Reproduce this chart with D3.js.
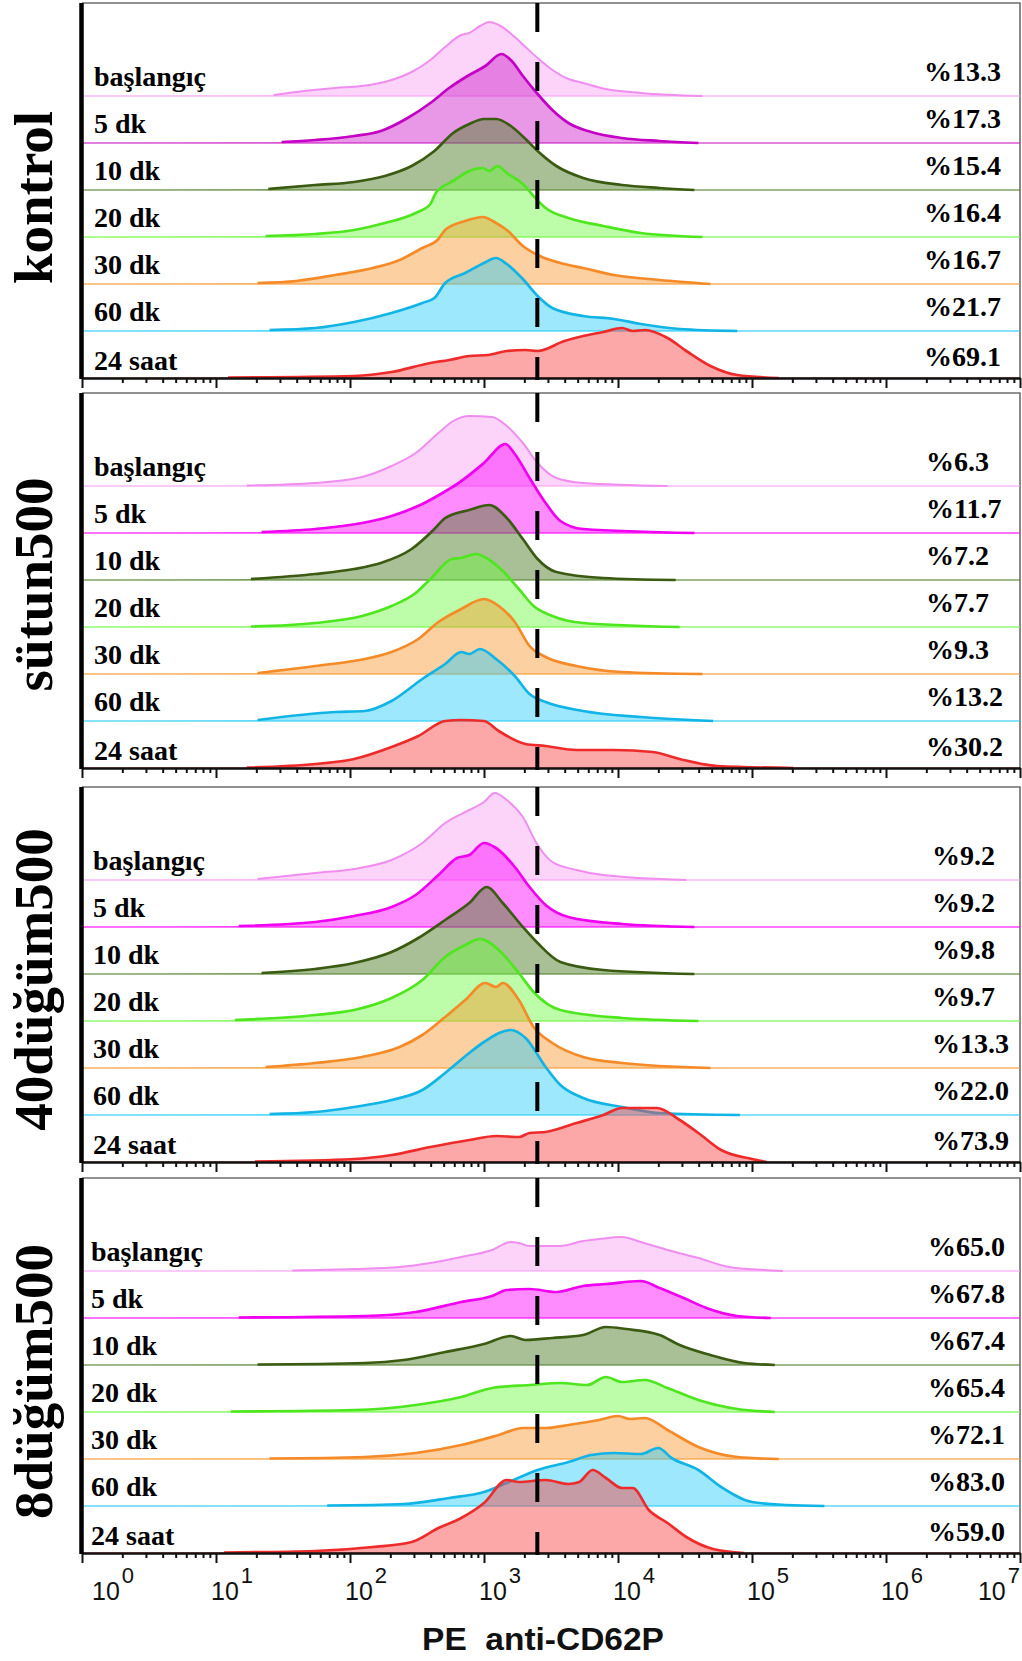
<!DOCTYPE html>
<html>
<head>
<meta charset="utf-8">
<script src="https://cdn.jsdelivr.net/npm/d3@7"></script>
<style>
  body { margin: 0; background: #fff; }
  svg { display: block; }
</style>
</head>
<body>
<svg id="chart" width="1022" height="1661"></svg>
<script>
// groups (one panel each) and time points (one histogram row each)
const groups = ["kontrol", "sütun500", "40düğüm500", "8düğüm500"];
const timePoints = ["başlangıç", "5 dk", "10 dk", "20 dk", "30 dk", "60 dk", "24 saat"];

// % of events right of the gate
const kontrolPct = [13.3, 17.3, 15.4, 16.4, 16.7, 21.7, 69.1];
const sutunPct = [6.3, 11.7, 7.2, 7.7, 9.3, 13.2, 30.2];
const dugum40Pct = [9.2, 9.2, 9.8, 9.7, 13.3, 22.0, 73.9];
const dugum8Pct = [65.0, 67.8, 67.4, 65.4, 72.1, 83.0, 59.0];

// gate (dashed line) and decade ticks
const gateValue = 2500;
const decades = [0, 1, 2, 3, 4, 5, 6, 7];

// histograms: [log10 PE intensity, count]
const kontrolHist = [
  [[1.43,2],[1.66,10],[1.89,16],[2.09,20],[2.31,32],[2.46,48],[2.6,72],[2.71,98],[2.83,122],[2.89,126],[2.97,140],[3.04,148],[3.11,142],[3.23,118],[3.31,98],[3.4,76],[3.49,56],[3.63,34],[3.74,26],[3.91,14],[4.17,6],[4.63,0]],
  [[1.49,2],[1.74,6],[2.03,14],[2.23,24],[2.43,50],[2.6,80],[2.74,110],[2.89,136],[3.01,154],[3.13,178],[3.2,166],[3.29,134],[3.4,98],[3.51,66],[3.63,40],[3.8,22],[4.03,10],[4.31,4],[4.6,0]],
  [[1.39,2],[1.74,10],[2.03,16],[2.26,28],[2.46,48],[2.63,78],[2.77,114],[2.89,132],[3.0,142],[3.09,142],[3.2,128],[3.31,102],[3.4,78],[3.54,48],[3.74,24],[4.03,10],[4.31,4],[4.57,0]],
  [[1.37,2],[1.74,6],[2.03,14],[2.26,28],[2.49,48],[2.6,66],[2.64,88],[2.77,112],[2.89,132],[2.99,138],[3.04,132],[3.1,142],[3.17,128],[3.29,106],[3.37,82],[3.46,58],[3.63,38],[3.89,22],[4.17,8],[4.63,0]],
  [[1.31,2],[1.6,6],[1.89,18],[2.17,32],[2.37,48],[2.54,72],[2.66,90],[2.71,108],[2.86,126],[2.99,134],[3.09,122],[3.17,108],[3.29,76],[3.4,58],[3.57,42],[3.74,32],[3.97,18],[4.31,8],[4.69,0]],
  [[1.4,2],[1.74,6],[2.03,18],[2.31,36],[2.54,56],[2.63,66],[2.71,96],[2.86,116],[3.0,136],[3.09,146],[3.17,134],[3.29,104],[3.4,70],[3.51,46],[3.74,30],[3.97,24],[4.17,14],[4.46,4],[4.89,0]],
  [[1.09,1],[2.03,4],[2.31,12],[2.6,30],[2.74,36],[2.89,44],[3.03,46],[3.17,54],[3.31,56],[3.4,54],[3.6,74],[3.74,84],[3.89,92],[4.03,100],[4.11,94],[4.2,96],[4.37,80],[4.51,54],[4.69,24],[4.89,6],[5.2,0]]
];

const sutunHist = [
  [[1.23,1],[1.74,6],[2.09,18],[2.31,40],[2.49,66],[2.66,106],[2.77,130],[2.89,140],[3.06,138],[3.17,120],[3.29,86],[3.4,46],[3.54,16],[3.74,6],[4.37,0]],
  [[1.34,2],[1.74,8],[2.09,20],[2.31,34],[2.54,58],[2.74,88],[2.8,98],[3.0,140],[3.16,178],[3.23,158],[3.34,110],[3.46,60],[3.57,24],[3.74,8],[4.57,0]],
  [[1.26,2],[1.74,12],[2.03,22],[2.23,34],[2.46,62],[2.63,102],[2.71,124],[2.89,140],[3.04,150],[3.17,124],[3.29,82],[3.4,42],[3.54,16],[3.89,4],[4.43,0]],
  [[1.26,1],[1.74,8],[2.09,22],[2.31,42],[2.49,68],[2.6,96],[2.76,136],[2.83,138],[2.94,146],[3.03,136],[3.14,112],[3.26,76],[3.37,42],[3.51,22],[3.74,8],[4.46,0]],
  [[1.31,2],[1.74,16],[2.11,30],[2.31,44],[2.51,70],[2.66,104],[2.83,130],[3.0,150],[3.11,136],[3.23,104],[3.34,56],[3.46,34],[3.69,16],[4.03,4],[4.63,0]],
  [[1.31,2],[1.89,18],[2.11,20],[2.31,40],[2.54,84],[2.71,114],[2.83,138],[2.89,134],[2.97,144],[3.09,124],[3.23,90],[3.34,54],[3.46,38],[3.74,20],[4.17,8],[4.71,0]],
  [[1.23,1],[1.74,8],[2.03,18],[2.31,42],[2.51,64],[2.71,94],[2.83,96],[3.0,94],[3.11,74],[3.31,48],[3.46,44],[3.69,36],[3.97,36],[4.26,32],[4.46,18],[4.74,4],[5.31,0]]
];

const dugum40Hist = [
  [[1.31,2],[1.74,14],[2.03,22],[2.31,40],[2.54,74],[2.71,114],[2.89,140],[3.0,156],[3.08,174],[3.17,160],[3.29,126],[3.4,70],[3.51,36],[3.69,20],[3.89,10],[4.51,0]],
  [[1.17,2],[1.74,10],[2.03,22],[2.31,40],[2.49,64],[2.66,104],[2.8,138],[2.89,144],[3.0,168],[3.09,158],[3.23,120],[3.34,80],[3.46,44],[3.63,20],[4.03,6],[4.57,0]],
  [[1.34,2],[1.74,10],[2.03,22],[2.31,44],[2.51,72],[2.71,108],[2.89,142],[3.02,174],[3.14,142],[3.29,94],[3.4,62],[3.57,24],[3.89,8],[4.57,0]],
  [[1.14,2],[1.74,12],[2.03,22],[2.31,46],[2.54,82],[2.71,128],[2.86,152],[2.97,164],[3.11,142],[3.26,96],[3.37,58],[3.57,22],[4.03,6],[4.6,0]],
  [[1.37,2],[1.74,10],[2.09,22],[2.37,42],[2.54,66],[2.71,102],[2.86,136],[3.01,170],[3.09,162],[3.14,170],[3.26,136],[3.37,82],[3.51,50],[3.74,22],[4.03,10],[4.69,0]],
  [[1.4,2],[1.74,6],[2.03,16],[2.31,30],[2.54,50],[2.71,84],[2.89,124],[3.0,146],[3.2,170],[3.31,154],[3.46,96],[3.57,60],[3.74,34],[4.03,16],[4.31,4],[4.91,0]],
  [[1.29,1],[2.03,6],[2.31,14],[2.6,30],[2.89,44],[3.09,52],[3.26,50],[3.34,58],[3.46,60],[3.69,78],[3.89,94],[4.03,108],[4.29,108],[4.46,84],[4.6,58],[4.77,24],[5.0,6],[5.11,0]]
];

const dugum8Hist = [
  [[1.57,1],[2.03,4],[2.37,8],[2.6,16],[2.83,28],[3.06,42],[3.2,58],[3.26,56],[3.34,50],[3.57,50],[3.74,60],[3.86,64],[4.03,68],[4.17,58],[4.37,42],[4.6,26],[4.83,8],[5.09,2],[5.23,0]],
  [[1.17,1],[2.11,4],[2.49,12],[2.83,32],[3.06,44],[3.17,56],[3.34,58],[3.54,52],[3.74,64],[3.91,68],[4.17,74],[4.31,60],[4.49,40],[4.66,20],[4.89,4],[5.14,0]],
  [[1.31,1],[2.11,4],[2.4,10],[2.71,26],[3.0,42],[3.2,58],[3.31,50],[3.51,54],[3.74,60],[3.91,76],[4.06,72],[4.31,60],[4.46,40],[4.69,20],[4.94,4],[5.17,0]],
  [[1.11,1],[2.03,4],[2.49,14],[2.83,30],[3.06,48],[3.34,54],[3.57,58],[3.77,54],[3.91,70],[4.03,60],[4.2,64],[4.37,48],[4.6,24],[4.89,6],[5.17,0]],
  [[1.4,1],[2.11,4],[2.49,12],[2.83,28],[3.11,48],[3.29,62],[3.46,62],[3.63,68],[3.86,78],[4.0,86],[4.09,80],[4.2,82],[4.37,58],[4.6,24],[4.89,4],[5.2,0]],
  [[1.83,1],[2.4,4],[2.74,16],[3.0,28],[3.17,46],[3.4,72],[3.63,88],[3.8,102],[3.97,106],[4.17,104],[4.3,116],[4.4,96],[4.6,72],[4.77,38],[5.0,8],[5.26,2],[5.54,0]],
  [[1.06,1],[1.74,4],[2.17,12],[2.46,22],[2.66,50],[2.83,70],[3.0,100],[3.17,146],[3.26,142],[3.46,146],[3.63,138],[3.71,142],[3.81,166],[3.91,150],[4.03,130],[4.11,130],[4.23,86],[4.37,60],[4.51,32],[4.71,8],[4.94,0]]
];

const panels = [
  { hist: kontrolHist, pct: kontrolPct },
  { hist: sutunHist, pct: sutunPct },
  { hist: dugum40Hist, pct: dugum40Pct },
  { hist: dugum8Hist, pct: dugum8Pct }
];

// colours per time point
const strokeColors = ["#f08ef0", "#f000f0", "#3b5b12", "#4ee61e", "#f58a28", "#12b4e6", "#ee2b2b"];
const fillColors = ["#f8a0f4", "#ff00ff", "#53812d", "#6cf83e", "#f8972c", "#25ccf8", "#f83e3e"];
// the 5 dk trace of the control panel is a darker magenta
const kontrol5dk = { stroke: "#c400c4", fill: "#cc1ac7" };

const serif = "'Liberation Serif','Times New Roman',serif";
const sans = "'Liberation Sans',Arial,sans-serif";

const svg = d3.select("#chart");

const panelTops = [3, 393, 787, 1178];
const panelH = 375;
const rowGap = 47;
const rowLabelX = [94, 94, 93, 91];
const pctX = [924, 926, 932, 928];
const groupDy = [7, 4, 5, 16];

const x = d3.scaleLog().domain([1, 1e7]).range([82, 1020]);
const y = d3.scaleLinear().domain([0, 200]).range([0, 100]);

const minorTicks = [];
for (let e = 0; e < 7; e++) for (let m = 2; m <= 9; m++) minorTicks.push(m * 10 ** e);

panels.forEach((panel, p) => {
  const top = panelTops[p], bottom = top + panelH;
  const g = svg.append("g");

  // grey frame on top and right
  g.append("path")
    .attr("d", `M${x(1)},${top}H${x(1e7)}V${bottom}`)
    .attr("fill", "none")
    .attr("stroke", "#6d6d6d")
    .attr("stroke-width", 1.6);

  panel.hist.forEach((series, r) => {
    const base = bottom - (6 - r) * rowGap;
    const pts = [[0, 0], ...series, [7, 0]];
    let stroke = strokeColors[r], fill = fillColors[r];
    if (p === 0 && r === 1) { stroke = kontrol5dk.stroke; fill = kontrol5dk.fill; }

    const area = d3.area()
      .x(d => x(10 ** d[0]))
      .y0(base)
      .y1(d => base - y(d[1]))
      .curve(d3.curveMonotoneX);
    const line = d3.line()
      .x(d => x(10 ** d[0]))
      .y(d => base - y(d[1]))
      .curve(d3.curveMonotoneX);

    g.append("path")
      .attr("d", area(pts))
      .attr("fill", fill)
      .attr("fill-opacity", r === 2 ? 0.5 : 0.45);
    // faint flat baseline across the whole axis
    g.append("line")
      .attr("x1", x(1)).attr("x2", x(1e7))
      .attr("y1", base).attr("y2", base)
      .attr("stroke", fill)
      .attr("stroke-opacity", 0.55)
      .attr("stroke-width", 2);
    g.append("path")
      .attr("d", line(series))
      .attr("fill", "none")
      .attr("stroke", stroke)
      .attr("stroke-width", r === 0 ? 2 : 2.7)
      .attr("stroke-linejoin", "round");
  });

  // bottom axis: minor then major ticks
  const minorAxis = d3.axisBottom(x).tickValues(minorTicks).tickSize(5).tickSizeOuter(0).tickFormat("");
  const majorAxis = d3.axisBottom(x).tickValues(decades.map(e => 10 ** e)).tickSize(10).tickSizeOuter(0).tickFormat("");
  [minorAxis, majorAxis].forEach(ax => {
    const a = g.append("g").attr("transform", `translate(0,${bottom})`).call(ax);
    a.select(".domain").attr("stroke", "#111").attr("stroke-width", 2);
    a.selectAll(".tick line").attr("stroke", "#111").attr("stroke-width", 2);
  });

  // thick left axis
  g.append("line")
    .attr("x1", x(1) - 0.5).attr("x2", x(1) - 0.5)
    .attr("y1", top).attr("y2", bottom + 1)
    .attr("stroke", "#000")
    .attr("stroke-width", 4.5);

  // gate
  g.append("line")
    .attr("x1", x(gateValue)).attr("x2", x(gateValue))
    .attr("y1", top).attr("y2", bottom + 2)
    .attr("stroke", "#000")
    .attr("stroke-width", 4)
    .attr("stroke-dasharray", "29 30");

  // row labels and percentages
  timePoints.forEach((t, r) => {
    const base = bottom - (6 - r) * rowGap;
    g.append("text")
      .attr("x", rowLabelX[p])
      .attr("y", base - (r === 6 ? 8 : 10))
      .attr("font-family", serif)
      .attr("font-weight", "bold")
      .attr("font-size", 28)
      .attr("fill", "#000")
      .text(t);
    g.append("text")
      .attr("x", pctX[p])
      .attr("y", base - (r === 6 ? 12 : 15))
      .attr("font-family", serif)
      .attr("font-weight", "bold")
      .attr("font-size", 28)
      .attr("fill", "#000")
      .text("%" + panel.pct[r].toFixed(1));
  });

  // group label
  g.append("text")
    .attr("transform", `translate(52,${top + panelH / 2 + groupDy[p]}) rotate(-90)`)
    .attr("text-anchor", "middle")
    .attr("font-family", serif)
    .attr("font-weight", "bold")
    .attr("font-size", 55)
    .attr("fill", "#000")
    .text(groups[p]);
});

// decade labels under the last panel
const lastBottom = panelTops[3] + panelH;
decades.forEach((e, i) => {
  const t = svg.append("text")
    .attr("y", lastBottom + 47)
    .attr("font-family", sans)
    .attr("font-size", 25)
    .attr("fill", "#111");
  if (i === 0) t.attr("x", x(10 ** e) + 10);
  else if (i === decades.length - 1) t.attr("x", x(10 ** e)).attr("text-anchor", "end");
  else t.attr("x", x(10 ** e) - 5);
  t.append("tspan").text("10");
  t.append("tspan").attr("dx", 2).attr("dy", -17).attr("font-size", 22).text(e);
});

// axis title, slightly stretched like the scanned figure
svg.append("text")
  .attr("transform", "translate(543,1650) scale(1.08,1)")
  .attr("text-anchor", "middle")
  .attr("font-family", sans)
  .attr("font-weight", "bold")
  .attr("font-size", 31)
  .attr("fill", "#111")
  .attr("xml:space", "preserve")
  .style("white-space", "pre")
  .text("PE  anti-CD62P");
</script>
</body>
</html>
